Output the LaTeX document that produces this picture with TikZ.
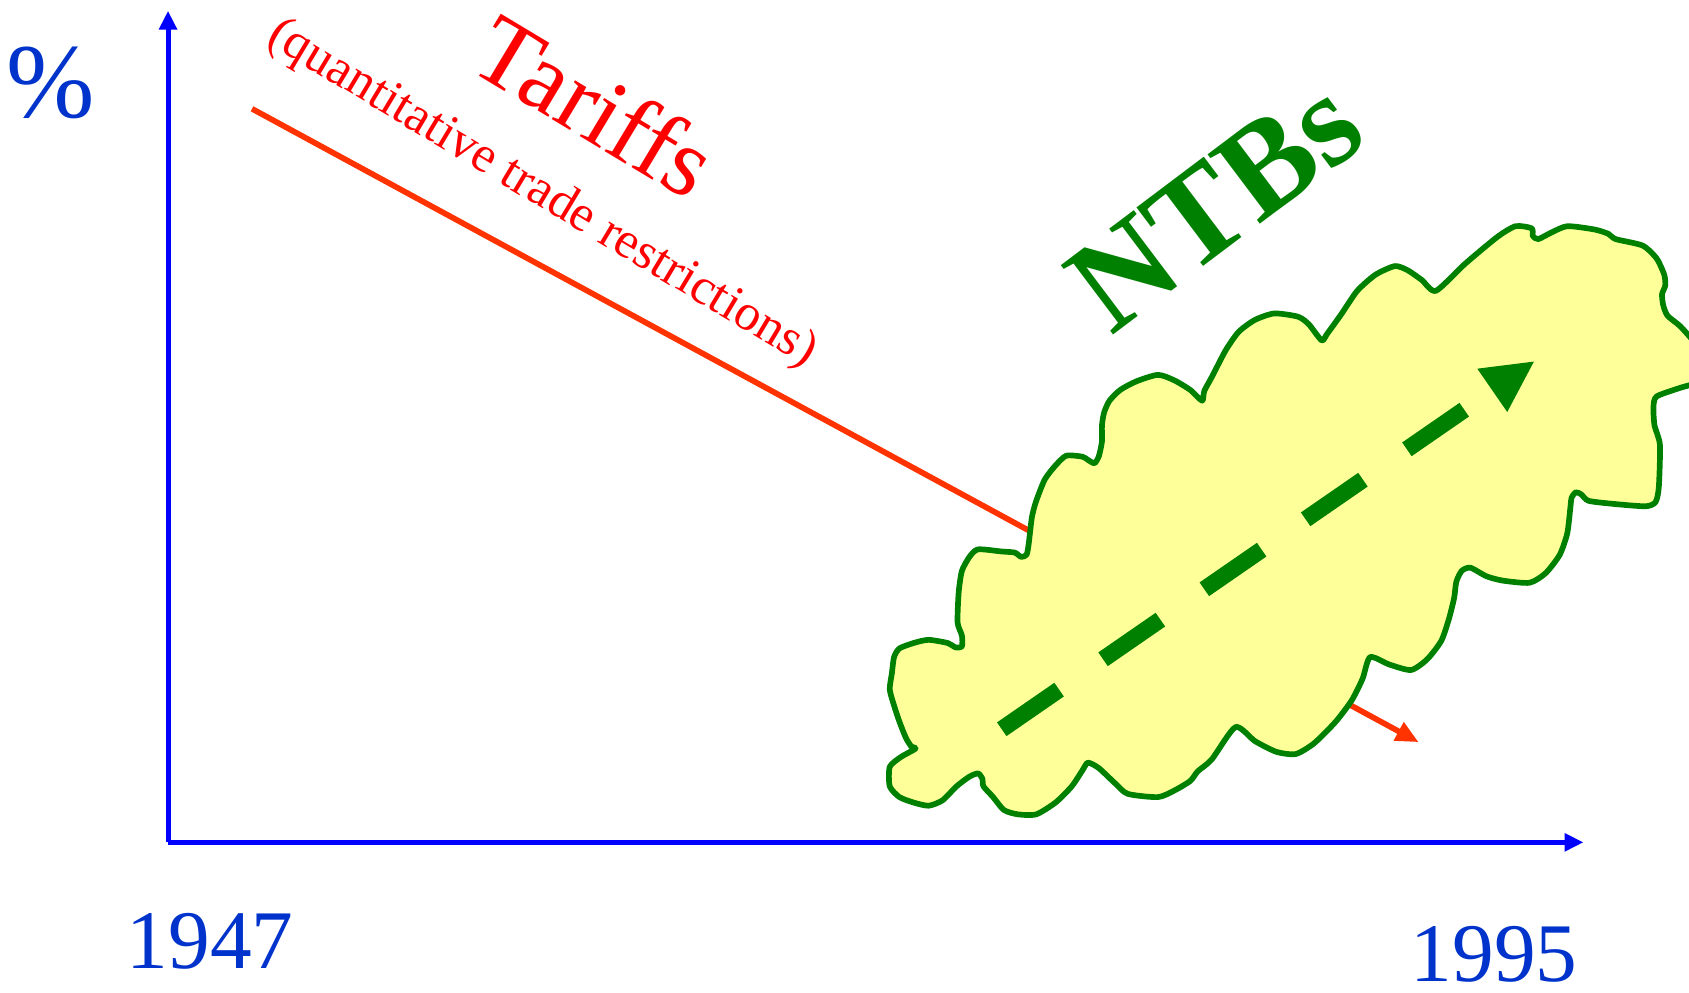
\documentclass[tikz,border=0pt]{standalone}
\usepackage{fontspec}
\setmainfont{Liberation Serif}
\usetikzlibrary{arrows.meta}
\definecolor{axisblue}{RGB}{0,0,255}
\definecolor{textblue}{RGB}{0,51,204}
\definecolor{tariffred}{RGB}{255,0,0}
\definecolor{linered}{RGB}{255,51,0}
\definecolor{ntbgreen}{RGB}{0,128,0}
\definecolor{cloudfill}{RGB}{255,255,153}
\tikzset{
  axisline/.style={axisblue, line width=1.3pt, -{Triangle[length=5pt,width=4.6pt]}},
  yearlabel/.style={textblue, font=\fontsize{22}{26}\selectfont, inner sep=0pt},
  tariffline/.style={linered, line width=1.5pt, -{Triangle[length=6pt,width=5.2pt]}},
  cloudshape/.style={draw=ntbgreen, fill=cloudfill, line width=1.5pt, line join=round},
  ntbarrow/.style={ntbgreen, line width=4.4pt, dash pattern=on 18.4pt off 14.1pt, -{Triangle[length=13.7pt,width=12.8pt]}},
}
\begin{document}
\begin{tikzpicture}[x=0.01cm, y=-0.01cm]
\useasboundingbox (0,0) rectangle (1568,921);
% coordinates
\coordinate (origin) at (156,782);
\coordinate (ytop) at (156,10);
\coordinate (xend) at (1470,782);
\coordinate (tstart) at (234,101);
\coordinate (tend) at (1317,689);
\coordinate (nstart) at (930,677);
\coordinate (nend) at (1425,335);
% axes
\draw[axisline] (origin) -- (ytop);
\draw[axisline] (origin) -- (xend);
% labels
\node[textblue, font=\fontsize{28}{32}\selectfont, inner sep=0pt] (pct) at (47,77) {\%};
\node[yearlabel] (y1947) at (195,874) {1947};
\node[yearlabel] (y1995) at (1387,886) {1995};
% tariff line
\draw[tariffline] (tstart) -- (tend);
\node[tariffred, rotate=-31, font=\fontsize{26}{30}\selectfont, inner sep=0pt] (tariffs) at (553,98) {Tariffs};
\node[tariffred, rotate=-31, font=\fontsize{13.5}{16}\selectfont, inner sep=0pt] (qtr) at (503,180) {(quantitative trade restrictions)};
% cloud
\draw[cloudshape] plot[smooth cycle, tension=0.4] coordinates {
(850,695) (836,703) (826,712) (826,730) (835,740) (848,745) (862,748) (875,743) (888,730) (900,721) (908,718) (912,723) (913,730) (922,740) (932,752) (945,756) (962,756) (980,745) (995,730) (1005,715) (1010,708) (1020,713) (1035,727) (1047,737) (1075,740) (1090,734) (1105,725) (1112,716) (1125,705) (1147,675) (1165,688) (1185,698) (1203,700) (1220,690) (1240,670) (1255,650) (1265,630) (1272,610) (1290,617) (1310,622) (1325,612) (1338,595) (1345,575) (1350,555) (1352,540) (1357,530) (1365,527) (1380,535) (1395,539) (1420,541) (1435,532) (1448,515) (1455,495) (1458,470) (1459,462) (1463,457) (1468,459) (1475,465) (1500,468) (1528,470) (1537,466) (1540,452) (1541,413) (1536,395) (1535,378) (1538,368) (1560,360) (1575,355) (1590,340) (1575,320) (1560,303) (1548,293) (1544,283) (1543,273) (1546,265) (1545,255) (1538,240) (1525,228) (1500,222) (1493,217) (1480,213) (1455,210) (1440,216) (1428,222) (1423,219) (1422,212) (1407,210) (1390,220) (1360,245) (1333,270) (1320,260) (1307,251) (1295,247) (1277,255) (1260,270) (1245,292) (1232,310) (1227,316) (1215,301) (1205,294) (1183,291) (1165,297) (1150,308) (1138,325) (1125,350) (1118,363) (1116,372) (1105,362) (1090,353) (1075,348) (1055,354) (1040,362) (1030,372) (1025,383) (1023,395) (1023,410) (1020,424) (1016,430) (1010,427) (1005,424) (990,423) (980,432) (970,445) (962,465) (958,480) (955,505) (953,515) (948,517) (942,513) (930,512) (908,510) (900,517) (893,530) (890,550) (889,578) (893,590) (893,600) (887,601) (880,597) (862,594) (848,597) (835,602) (830,610) (828,625) (826,640) (830,655) (835,670) (841,685) (846,693)};
% NTB arrow
\draw[ntbarrow] (nstart) -- (nend);
\node[ntbgreen, rotate=37, font=\bfseries\fontsize{35}{40}\selectfont, inner sep=0pt] (ntbs) at (1128,190) {NTBs};
\end{tikzpicture}
\end{document}
